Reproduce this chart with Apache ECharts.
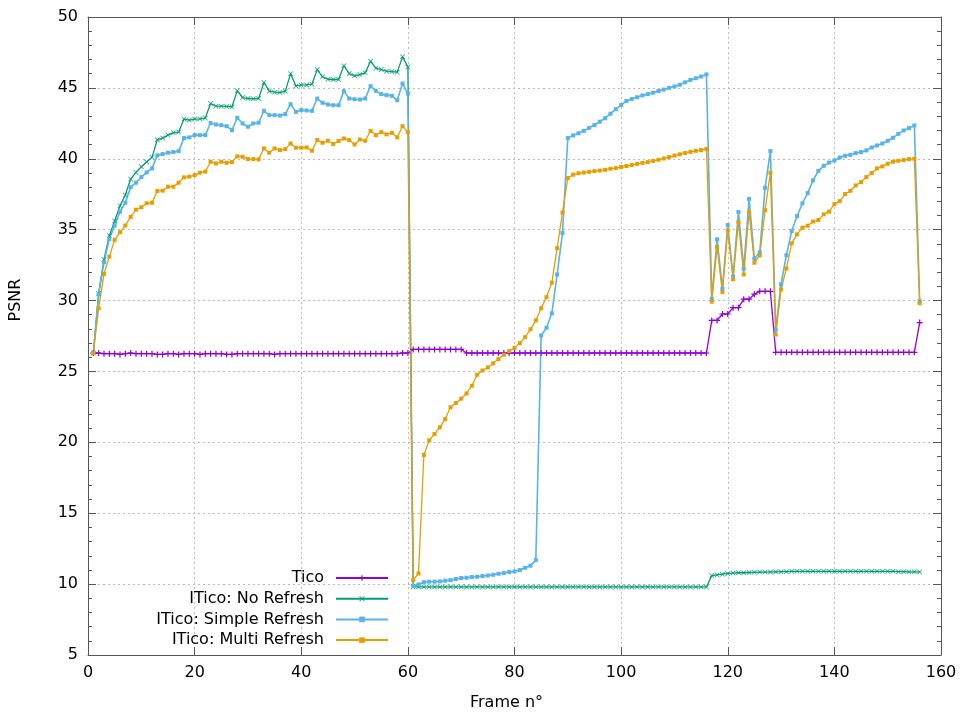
<!DOCTYPE html>
<html>
<head>
<meta charset="utf-8">
<script src="https://cdn.jsdelivr.net/npm/echarts@6/dist/echarts.min.js"></script>
<style>html,body{margin:0;padding:0;background:#fff}#c{width:960px;height:716px}</style>
</head>
<body>
<div id="c"></div>
<script>
const frames = [
  1,2,3,4,5,6,7,8,9,10, 11,12,13,14,15,16,17,18,19,20,
  21,22,23,24,25,26,27,28,29,30, 31,32,33,34,35,36,37,38,39,40,
  41,42,43,44,45,46,47,48,49,50, 51,52,53,54,55,56,57,58,59,60,
  61,62,63,64,65,66,67,68,69,70, 71,72,73,74,75,76,77,78,79,80,
  81,82,83,84,85,86,87,88,89,90, 91,92,93,94,95,96,97,98,99,100,
  101,102,103,104,105,106,107,108,109,110, 111,112,113,114,115,116,117,118,119,120,
  121,122,123,124,125,126,127,128,129,130, 131,132,133,134,135,136,137,138,139,140,
  141,142,143,144,145,146,147,148,149,150, 151,152,153,154,155,156
];
const tico = [
  26.3,26.3,26.25,26.25,26.25,26.2,26.25,26.3,26.25,26.25,
  26.25,26.25,26.2,26.2,26.25,26.25,26.2,26.25,26.25,26.25,
  26.2,26.25,26.25,26.25,26.25,26.2,26.2,26.25,26.25,26.25,
  26.25,26.25,26.25,26.25,26.2,26.25,26.25,26.25,26.25,26.25,
  26.25,26.25,26.25,26.25,26.25,26.25,26.25,26.25,26.25,26.25,
  26.25,26.25,26.25,26.25,26.25,26.25,26.25,26.25,26.3,26.3,
  26.55,26.55,26.55,26.55,26.55,26.55,26.55,26.55,26.55,26.55,
  26.3,26.3,26.3,26.3,26.3,26.3,26.3,26.3,26.3,26.3,
  26.3,26.3,26.3,26.3,26.3,26.3,26.3,26.3,26.3,26.3,
  26.3,26.3,26.3,26.3,26.3,26.3,26.3,26.3,26.3,26.3,
  26.3,26.3,26.3,26.3,26.3,26.3,26.3,26.3,26.3,26.3,
  26.3,26.3,26.3,26.3,26.3,26.3,28.6,28.6,29.05,29.05,
  29.5,29.5,30.1,30.1,30.45,30.65,30.65,30.65,26.35,26.35,
  26.35,26.35,26.35,26.35,26.35,26.35,26.35,26.35,26.35,26.35,
  26.35,26.35,26.35,26.35,26.35,26.35,26.35,26.35,26.35,26.35,
  26.35,26.35,26.35,26.35,26.35,28.45
];
const noRefresh = [
  26.3,30.5,32.9,34.58,35.61,36.69,37.44,38.57,39.04,39.44,
  39.77,40.1,41.34,41.46,41.67,41.83,41.88,42.8,42.73,42.8,
  42.82,42.87,43.9,43.71,43.71,43.69,43.67,44.79,44.32,44.25,
  44.23,44.25,45.38,44.77,44.7,44.67,44.77,45.99,45.14,45.19,
  45.21,45.26,46.29,45.78,45.61,45.59,45.59,46.57,46.01,45.85,
  45.94,46.06,46.88,46.39,46.29,46.18,46.15,46.11,47.19,46.48,
  9.8,9.8,9.8,9.8,9.8,9.8,9.8,9.8,9.8,9.8,
  9.8,9.8,9.8,9.8,9.8,9.8,9.8,9.8,9.8,9.8,
  9.8,9.8,9.8,9.8,9.8,9.8,9.8,9.8,9.8,9.8,
  9.8,9.8,9.8,9.8,9.8,9.8,9.8,9.8,9.8,9.8,
  9.8,9.8,9.8,9.8,9.8,9.8,9.8,9.8,9.8,9.8,
  9.8,9.8,9.8,9.8,9.8,9.8,10.6,10.65,10.7,10.75,
  10.78,10.8,10.8,10.82,10.83,10.85,10.85,10.86,10.87,10.88,
  10.88,10.9,10.9,10.9,10.9,10.9,10.9,10.9,10.9,10.9,
  10.9,10.9,10.9,10.9,10.9,10.9,10.9,10.9,10.9,10.9,
  10.9,10.88,10.88,10.87,10.87,10.86
];
const simpleRefresh = [
  26.3,30.45,32.7,34.35,35.29,36.27,36.9,38.0,38.31,38.71,
  39.04,39.32,40.24,40.33,40.43,40.47,40.54,41.46,41.51,41.67,
  41.67,41.67,42.52,42.42,42.37,42.3,42.02,42.89,42.49,42.26,
  42.49,42.54,43.38,43.08,43.08,43.05,43.15,43.85,43.31,43.43,
  43.41,43.38,44.25,43.95,43.83,43.78,43.78,44.77,44.25,44.2,
  44.18,44.25,45.12,44.79,44.56,44.49,44.44,44.13,45.31,44.6,
  9.86,9.98,10.14,10.17,10.17,10.19,10.24,10.28,10.36,10.43,
  10.45,10.5,10.52,10.57,10.61,10.66,10.73,10.78,10.85,10.9,
  10.99,11.15,11.3,11.69,27.54,28.08,29.1,31.84,34.76,41.46,
  41.65,41.8,41.97,42.18,42.38,42.62,42.86,43.18,43.5,43.79,
  44.08,44.22,44.34,44.47,44.56,44.66,44.78,44.88,45.0,45.1,
  45.22,45.39,45.56,45.68,45.8,45.95,30.12,34.32,30.83,35.33,
  31.7,36.25,32.24,37.17,32.95,33.4,37.95,40.54,27.95,31.15,
  33.2,34.9,35.96,36.85,37.58,38.48,39.15,39.5,39.73,39.88,
  40.09,40.21,40.28,40.4,40.47,40.59,40.8,40.94,41.08,41.27,
  41.48,41.76,42.0,42.16,42.35,29.95
];
const multiRefresh = [
  26.3,29.46,31.88,33.1,34.28,34.82,35.29,35.9,36.41,36.58,
  36.86,36.9,37.73,37.75,38.03,38.03,38.31,38.69,38.74,38.85,
  39.02,39.09,39.79,39.67,39.79,39.72,39.77,40.17,40.14,39.98,
  39.98,39.96,40.73,40.43,40.73,40.61,40.68,41.08,40.78,40.78,
  40.8,40.57,41.32,41.13,41.27,41.04,41.25,41.43,41.32,41.01,
  41.36,41.27,41.97,41.67,41.88,41.72,41.83,41.51,42.3,41.88,
  10.28,10.75,19.11,20.14,20.59,21.06,21.64,22.47,22.77,23.08,
  23.45,23.99,24.77,25.07,25.28,25.57,25.87,26.18,26.43,26.65,
  27.0,27.42,27.98,28.6,29.46,30.24,31.26,33.69,36.21,38.64,
  38.88,38.98,39.03,39.08,39.13,39.17,39.22,39.3,39.34,39.42,
  39.49,39.56,39.64,39.71,39.76,39.85,39.93,40.02,40.12,40.22,
  40.32,40.41,40.49,40.56,40.61,40.7,29.92,33.78,30.6,34.95,
  31.5,35.54,31.84,36.25,32.67,33.18,36.37,39.02,27.6,30.78,
  32.26,34.03,34.67,35.14,35.28,35.57,35.68,36.08,36.27,36.8,
  37.01,37.51,37.74,38.12,38.35,38.71,38.99,39.32,39.46,39.65,
  39.79,39.86,39.91,39.98,40.0,29.81
];
const seriesNames = ['Tico', 'ITico: No Refresh', 'ITico: Simple Refresh', 'ITico: Multi Refresh'];
const xTicks = {min: 0, max: 160, interval: 20};
const yTicks = {min: 5, max: 50, interval: 5};

const FONT = 'DejaVu Sans, Liberation Sans, sans-serif';
const AX = '#555';
const plusPath = 'path://M4,0H6V4H10V6H6V10H4V6H0V4H4Z';
const xPath = 'path://M0,1L1,0L5,4L9,0L10,1L6,5L10,9L9,10L5,6L1,10L0,9L4,5Z';

function pairs(arr) { return frames.map((f, i) => [f, arr[i]]); }
function mk(name, arr, color, symbol, size, width) {
  return {
    name, type: 'line', data: pairs(arr),
    symbol, symbolSize: size, showAllSymbol: true,
    lineStyle: {color, width}, itemStyle: {color},
    emphasis: {disabled: true}, animation: false
  };
}

const chart = echarts.init(document.getElementById('c'), null, {renderer: 'canvas'});
const baseX = {
  type: 'value', min: xTicks.min, max: xTicks.max, interval: xTicks.interval,
  axisLine: {show: true, onZero: false, lineStyle: {color: AX, width: 1}},
  axisTick: {show: true, inside: true, length: 8, lineStyle: {color: AX}},
};
const baseY = {
  type: 'value', min: yTicks.min, max: yTicks.max, interval: yTicks.interval,
  axisLine: {show: true, onZero: false, lineStyle: {color: AX, width: 1}},
  axisTick: {show: true, inside: true, length: 8, lineStyle: {color: AX}},
  minorTick: {show: true, splitNumber: 5, length: 4, lineStyle: {color: AX}},
};
chart.setOption({
  backgroundColor: '#fff',
  animation: false,
  grid: {left: 88, right: 19, top: 17, bottom: 60},
  xAxis: [
    Object.assign({}, baseX, {
      position: 'bottom',
      name: 'Frame n°', nameLocation: 'middle', nameGap: 40,
      nameTextStyle: {fontFamily: FONT, fontSize: 16, color: '#000', padding: [0, 16, 0, 0]},
      axisLabel: {fontFamily: FONT, fontSize: 16, color: '#000', margin: 10},
      splitLine: {show: true, lineStyle: {color: '#bbb', type: [2, 3], width: 1}}
    }),
    Object.assign({}, baseX, {position: 'top', axisLabel: {show: false}, splitLine: {show: false}})
  ],
  yAxis: [
    Object.assign({}, baseY, {
      position: 'left',
      name: 'PSNR', nameLocation: 'middle', nameGap: 64,
      nameTextStyle: {fontFamily: FONT, fontSize: 16, color: '#000', padding: [0, 0, 0, 72]},
      axisLabel: {fontFamily: FONT, fontSize: 16, color: '#000', margin: 10},
      splitLine: {show: true, lineStyle: {color: '#bbb', type: [2, 3], width: 1}}
    }),
    Object.assign({}, baseY, {position: 'right', axisLabel: {show: false}, splitLine: {show: false}})
  ],
  legend: {
    orient: 'vertical', align: 'right',
    right: 571, top: 570, padding: 0,
    itemWidth: 52, itemHeight: 7, itemGap: 4.7,
    textStyle: {fontFamily: FONT, fontSize: 16, color: '#000', padding: [0, 7, 0, 0]},
    selectedMode: false,
    data: seriesNames
  },
  series: [
    mk(seriesNames[0], tico, '#9400d3', plusPath, 6, 1.3),
    mk(seriesNames[1], noRefresh, '#009e73', xPath, 5, 1.3),
    mk(seriesNames[2], simpleRefresh, '#56b4e9', 'rect', 4, 1.6),
    mk(seriesNames[3], multiRefresh, '#e69f00', 'rect', 4, 1.3)
  ]
});
</script>
</body>
</html>
